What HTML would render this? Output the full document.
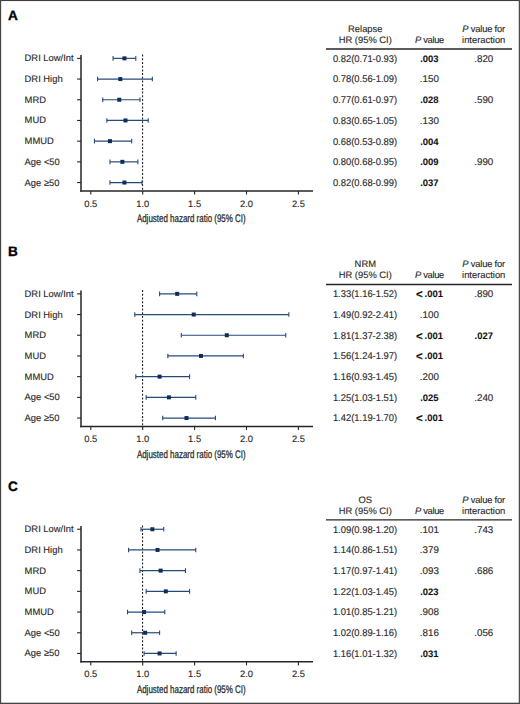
<!DOCTYPE html>
<html><head><meta charset="utf-8"><style>
html,body{margin:0;padding:0;background:#fff;}
body{width:520px;height:704px;overflow:hidden;}
svg{display:block;}
text{text-rendering:geometricPrecision;font-family:"Liberation Sans",sans-serif;font-size:9.4px;fill:#2b2b2b;stroke:#2b2b2b;stroke-width:0.14px;}
text.c{text-anchor:middle;}
text.b{font-weight:bold;fill:#111;}
text.lt{font-size:13.6px;font-weight:bold;fill:#000;stroke:#000;stroke-width:0.35px;}
text.ax{font-size:11px;stroke:#2b2b2b;stroke-width:0.28px;}
text.lt2{font-size:11.5px;}
text.t{font-size:9.8px;}
text.b.t{font-size:9.45px;stroke-width:0.08px;}
</style></head><body>
<svg width="520" height="704" viewBox="0 0 520 704">
<rect x="0" y="0" width="520" height="704" fill="#fff"/>
<text x="8.1" y="19.75" class="lt">A</text>
<text x="365.3" y="31.70" class="c">Relapse</text>
<text x="365.3" y="42.90" class="c">HR (95% CI)</text>
<text x="429.6" y="42.90" class="c" textLength="29.4" lengthAdjust="spacing"><tspan font-style="italic">P</tspan> value</text>
<text x="483.7" y="31.70" class="c" textLength="43.0" lengthAdjust="spacing"><tspan font-style="italic">P</tspan> value for</text>
<text x="483.7" y="42.90" class="c">interaction</text>
<line x1="326" x2="512" y1="49.00" y2="49.00" stroke="#262626" stroke-width="1.3"/>
<line x1="81.0" x2="81.0" y1="55.00" y2="191.65" stroke="#262626" stroke-width="1.5"/>
<line x1="80.25" x2="313" y1="190.90" y2="190.90" stroke="#262626" stroke-width="1.5"/>
<line x1="142.55" x2="142.55" y1="54.60" y2="190.20" stroke="#222" stroke-width="1.1" stroke-dasharray="2 1.7"/>
<line x1="90.80" x2="90.80" y1="190.90" y2="194.50" stroke="#262626" stroke-width="1.1"/>
<text x="90.80" y="206.50" class="c">0.5</text>
<line x1="142.70" x2="142.70" y1="190.90" y2="194.50" stroke="#262626" stroke-width="1.1"/>
<text x="142.70" y="206.50" class="c">1.0</text>
<line x1="194.60" x2="194.60" y1="190.90" y2="194.50" stroke="#262626" stroke-width="1.1"/>
<text x="194.60" y="206.50" class="c">1.5</text>
<line x1="246.50" x2="246.50" y1="190.90" y2="194.50" stroke="#262626" stroke-width="1.1"/>
<text x="246.50" y="206.50" class="c">2.0</text>
<line x1="298.40" x2="298.40" y1="190.90" y2="194.50" stroke="#262626" stroke-width="1.1"/>
<text x="298.40" y="206.50" class="c">2.5</text>
<text x="136.9" y="222.30" class="ax" textLength="108.8" lengthAdjust="spacingAndGlyphs">Adjusted hazard ratio (95% CI)</text>
<line x1="77.10" x2="81.00" y1="58.35" y2="58.35" stroke="#262626" stroke-width="1.1"/>
<text x="24.6" y="61.35">DRI Low/Int</text>
<line x1="113.06" x2="135.81" y1="58.35" y2="58.35" stroke="#264a78" stroke-width="1.2"/>
<line x1="113.06" x2="113.06" y1="56.05" y2="60.65" stroke="#264a78" stroke-width="1.1"/>
<line x1="135.81" x2="135.81" y1="56.05" y2="60.65" stroke="#264a78" stroke-width="1.1"/>
<rect x="122.44" y="56.35" width="4.0" height="4.0" fill="#0f2d5a"/>
<text x="332.9" y="61.75" class="t" textLength="64.3" lengthAdjust="spacingAndGlyphs">0.82(0.71-0.93)</text>
<text x="429.4" y="61.75" class="c b t">.003</text>
<text x="483.8" y="61.75" class="c t">.820</text>
<line x1="77.10" x2="81.00" y1="79.05" y2="79.05" stroke="#262626" stroke-width="1.1"/>
<text x="24.6" y="82.05">DRI High</text>
<line x1="97.55" x2="152.36" y1="79.05" y2="79.05" stroke="#264a78" stroke-width="1.2"/>
<line x1="97.55" x2="97.55" y1="76.75" y2="81.35" stroke="#264a78" stroke-width="1.1"/>
<line x1="152.36" x2="152.36" y1="76.75" y2="81.35" stroke="#264a78" stroke-width="1.1"/>
<rect x="118.30" y="77.05" width="4.0" height="4.0" fill="#0f2d5a"/>
<text x="332.9" y="82.45" class="t" textLength="64.3" lengthAdjust="spacingAndGlyphs">0.78(0.56-1.09)</text>
<text x="429.4" y="82.45" class="c t">.150</text>
<line x1="77.10" x2="81.00" y1="99.75" y2="99.75" stroke="#262626" stroke-width="1.1"/>
<text x="24.6" y="102.75">MRD</text>
<line x1="102.72" x2="139.95" y1="99.75" y2="99.75" stroke="#264a78" stroke-width="1.2"/>
<line x1="102.72" x2="102.72" y1="97.45" y2="102.05" stroke="#264a78" stroke-width="1.1"/>
<line x1="139.95" x2="139.95" y1="97.45" y2="102.05" stroke="#264a78" stroke-width="1.1"/>
<rect x="117.27" y="97.75" width="4.0" height="4.0" fill="#0f2d5a"/>
<text x="332.9" y="103.15" class="t" textLength="64.3" lengthAdjust="spacingAndGlyphs">0.77(0.61-0.97)</text>
<text x="429.4" y="103.15" class="c b t">.028</text>
<text x="483.8" y="103.15" class="c t">.590</text>
<line x1="77.10" x2="81.00" y1="120.45" y2="120.45" stroke="#262626" stroke-width="1.1"/>
<text x="24.6" y="123.45">MUD</text>
<line x1="106.86" x2="148.22" y1="120.45" y2="120.45" stroke="#264a78" stroke-width="1.2"/>
<line x1="106.86" x2="106.86" y1="118.15" y2="122.75" stroke="#264a78" stroke-width="1.1"/>
<line x1="148.22" x2="148.22" y1="118.15" y2="122.75" stroke="#264a78" stroke-width="1.1"/>
<rect x="123.47" y="118.45" width="4.0" height="4.0" fill="#0f2d5a"/>
<text x="332.9" y="123.85" class="t" textLength="64.3" lengthAdjust="spacingAndGlyphs">0.83(0.65-1.05)</text>
<text x="429.4" y="123.85" class="c t">.130</text>
<line x1="77.10" x2="81.00" y1="141.15" y2="141.15" stroke="#262626" stroke-width="1.1"/>
<text x="24.6" y="144.15">MMUD</text>
<line x1="94.45" x2="131.68" y1="141.15" y2="141.15" stroke="#264a78" stroke-width="1.2"/>
<line x1="94.45" x2="94.45" y1="138.85" y2="143.45" stroke="#264a78" stroke-width="1.1"/>
<line x1="131.68" x2="131.68" y1="138.85" y2="143.45" stroke="#264a78" stroke-width="1.1"/>
<rect x="107.96" y="139.15" width="4.0" height="4.0" fill="#0f2d5a"/>
<text x="332.9" y="144.55" class="t" textLength="64.3" lengthAdjust="spacingAndGlyphs">0.68(0.53-0.89)</text>
<text x="429.4" y="144.55" class="c b t">.004</text>
<line x1="77.10" x2="81.00" y1="161.85" y2="161.85" stroke="#262626" stroke-width="1.1"/>
<text x="24.6" y="164.85">Age &lt;50</text>
<line x1="109.96" x2="137.88" y1="161.85" y2="161.85" stroke="#264a78" stroke-width="1.2"/>
<line x1="109.96" x2="109.96" y1="159.55" y2="164.15" stroke="#264a78" stroke-width="1.1"/>
<line x1="137.88" x2="137.88" y1="159.55" y2="164.15" stroke="#264a78" stroke-width="1.1"/>
<rect x="120.37" y="159.85" width="4.0" height="4.0" fill="#0f2d5a"/>
<text x="332.9" y="165.25" class="t" textLength="64.3" lengthAdjust="spacingAndGlyphs">0.80(0.68-0.95)</text>
<text x="429.4" y="165.25" class="c b t">.009</text>
<text x="483.8" y="165.25" class="c t">.990</text>
<line x1="77.10" x2="81.00" y1="182.55" y2="182.55" stroke="#262626" stroke-width="1.1"/>
<text x="24.6" y="185.55">Age ≥50</text>
<line x1="109.96" x2="142.02" y1="182.55" y2="182.55" stroke="#264a78" stroke-width="1.2"/>
<line x1="109.96" x2="109.96" y1="180.25" y2="184.85" stroke="#264a78" stroke-width="1.1"/>
<line x1="142.02" x2="142.02" y1="180.25" y2="184.85" stroke="#264a78" stroke-width="1.1"/>
<rect x="122.44" y="180.55" width="4.0" height="4.0" fill="#0f2d5a"/>
<text x="332.9" y="185.95" class="t" textLength="64.3" lengthAdjust="spacingAndGlyphs">0.82(0.68-0.99)</text>
<text x="429.4" y="185.95" class="c b t">.037</text><text x="8.1" y="255.65" class="lt">B</text>
<text x="365.3" y="267.20" class="c">NRM</text>
<text x="365.3" y="278.40" class="c">HR (95% CI)</text>
<text x="429.6" y="278.40" class="c" textLength="29.4" lengthAdjust="spacing"><tspan font-style="italic">P</tspan> value</text>
<text x="483.7" y="267.20" class="c" textLength="43.0" lengthAdjust="spacing"><tspan font-style="italic">P</tspan> value for</text>
<text x="483.7" y="278.40" class="c">interaction</text>
<line x1="326" x2="512" y1="284.50" y2="284.50" stroke="#262626" stroke-width="1.3"/>
<line x1="81.0" x2="81.0" y1="290.50" y2="427.15" stroke="#262626" stroke-width="1.5"/>
<line x1="80.25" x2="313" y1="426.40" y2="426.40" stroke="#262626" stroke-width="1.5"/>
<line x1="142.55" x2="142.55" y1="290.10" y2="425.70" stroke="#222" stroke-width="1.1" stroke-dasharray="2 1.7"/>
<line x1="90.80" x2="90.80" y1="426.40" y2="430.00" stroke="#262626" stroke-width="1.1"/>
<text x="90.80" y="442.00" class="c">0.5</text>
<line x1="142.70" x2="142.70" y1="426.40" y2="430.00" stroke="#262626" stroke-width="1.1"/>
<text x="142.70" y="442.00" class="c">1.0</text>
<line x1="194.60" x2="194.60" y1="426.40" y2="430.00" stroke="#262626" stroke-width="1.1"/>
<text x="194.60" y="442.00" class="c">1.5</text>
<line x1="246.50" x2="246.50" y1="426.40" y2="430.00" stroke="#262626" stroke-width="1.1"/>
<text x="246.50" y="442.00" class="c">2.0</text>
<line x1="298.40" x2="298.40" y1="426.40" y2="430.00" stroke="#262626" stroke-width="1.1"/>
<text x="298.40" y="442.00" class="c">2.5</text>
<text x="136.9" y="457.80" class="ax" textLength="108.8" lengthAdjust="spacingAndGlyphs">Adjusted hazard ratio (95% CI)</text>
<line x1="77.10" x2="81.00" y1="293.85" y2="293.85" stroke="#262626" stroke-width="1.1"/>
<text x="24.6" y="296.85">DRI Low/Int</text>
<line x1="159.59" x2="196.82" y1="293.85" y2="293.85" stroke="#264a78" stroke-width="1.2"/>
<line x1="159.59" x2="159.59" y1="291.55" y2="296.15" stroke="#264a78" stroke-width="1.1"/>
<line x1="196.82" x2="196.82" y1="291.55" y2="296.15" stroke="#264a78" stroke-width="1.1"/>
<rect x="175.17" y="291.85" width="4.0" height="4.0" fill="#0f2d5a"/>
<text x="332.9" y="297.25" class="t" textLength="64.3" lengthAdjust="spacingAndGlyphs">1.33(1.16-1.52)</text>
<text x="416.0" y="298.15" class="b lt2">&lt;</text>
<text x="424.6" y="297.25" class="b t">.001</text>
<text x="483.8" y="297.25" class="c t">.890</text>
<line x1="77.10" x2="81.00" y1="314.55" y2="314.55" stroke="#262626" stroke-width="1.1"/>
<text x="24.6" y="317.55">DRI High</text>
<line x1="134.78" x2="288.84" y1="314.55" y2="314.55" stroke="#264a78" stroke-width="1.2"/>
<line x1="134.78" x2="134.78" y1="312.25" y2="316.85" stroke="#264a78" stroke-width="1.1"/>
<line x1="288.84" x2="288.84" y1="312.25" y2="316.85" stroke="#264a78" stroke-width="1.1"/>
<rect x="191.72" y="312.55" width="4.0" height="4.0" fill="#0f2d5a"/>
<text x="332.9" y="317.95" class="t" textLength="64.3" lengthAdjust="spacingAndGlyphs">1.49(0.92-2.41)</text>
<text x="429.4" y="317.95" class="c t">.100</text>
<line x1="77.10" x2="81.00" y1="335.25" y2="335.25" stroke="#262626" stroke-width="1.1"/>
<text x="24.6" y="338.25">MRD</text>
<line x1="181.31" x2="285.74" y1="335.25" y2="335.25" stroke="#264a78" stroke-width="1.2"/>
<line x1="181.31" x2="181.31" y1="332.95" y2="337.55" stroke="#264a78" stroke-width="1.1"/>
<line x1="285.74" x2="285.74" y1="332.95" y2="337.55" stroke="#264a78" stroke-width="1.1"/>
<rect x="224.80" y="333.25" width="4.0" height="4.0" fill="#0f2d5a"/>
<text x="332.9" y="338.65" class="t" textLength="64.3" lengthAdjust="spacingAndGlyphs">1.81(1.37-2.38)</text>
<text x="416.0" y="339.55" class="b lt2">&lt;</text>
<text x="424.6" y="338.65" class="b t">.001</text>
<text x="483.8" y="338.65" class="c b t">.027</text>
<line x1="77.10" x2="81.00" y1="355.95" y2="355.95" stroke="#262626" stroke-width="1.1"/>
<text x="24.6" y="358.95">MUD</text>
<line x1="167.87" x2="243.35" y1="355.95" y2="355.95" stroke="#264a78" stroke-width="1.2"/>
<line x1="167.87" x2="167.87" y1="353.65" y2="358.25" stroke="#264a78" stroke-width="1.1"/>
<line x1="243.35" x2="243.35" y1="353.65" y2="358.25" stroke="#264a78" stroke-width="1.1"/>
<rect x="198.95" y="353.95" width="4.0" height="4.0" fill="#0f2d5a"/>
<text x="332.9" y="359.35" class="t" textLength="64.3" lengthAdjust="spacingAndGlyphs">1.56(1.24-1.97)</text>
<text x="416.0" y="360.25" class="b lt2">&lt;</text>
<text x="424.6" y="359.35" class="b t">.001</text>
<line x1="77.10" x2="81.00" y1="376.65" y2="376.65" stroke="#262626" stroke-width="1.1"/>
<text x="24.6" y="379.65">MMUD</text>
<line x1="135.81" x2="189.58" y1="376.65" y2="376.65" stroke="#264a78" stroke-width="1.2"/>
<line x1="135.81" x2="135.81" y1="374.35" y2="378.95" stroke="#264a78" stroke-width="1.1"/>
<line x1="189.58" x2="189.58" y1="374.35" y2="378.95" stroke="#264a78" stroke-width="1.1"/>
<rect x="157.59" y="374.65" width="4.0" height="4.0" fill="#0f2d5a"/>
<text x="332.9" y="380.05" class="t" textLength="64.3" lengthAdjust="spacingAndGlyphs">1.16(0.93-1.45)</text>
<text x="429.4" y="380.05" class="c t">.200</text>
<line x1="77.10" x2="81.00" y1="397.35" y2="397.35" stroke="#262626" stroke-width="1.1"/>
<text x="24.6" y="400.35">Age &lt;50</text>
<line x1="146.15" x2="195.78" y1="397.35" y2="397.35" stroke="#264a78" stroke-width="1.2"/>
<line x1="146.15" x2="146.15" y1="395.05" y2="399.65" stroke="#264a78" stroke-width="1.1"/>
<line x1="195.78" x2="195.78" y1="395.05" y2="399.65" stroke="#264a78" stroke-width="1.1"/>
<rect x="166.90" y="395.35" width="4.0" height="4.0" fill="#0f2d5a"/>
<text x="332.9" y="400.75" class="t" textLength="64.3" lengthAdjust="spacingAndGlyphs">1.25(1.03-1.51)</text>
<text x="429.4" y="400.75" class="c b t">.025</text>
<text x="483.8" y="400.75" class="c t">.240</text>
<line x1="77.10" x2="81.00" y1="418.05" y2="418.05" stroke="#262626" stroke-width="1.1"/>
<text x="24.6" y="421.05">Age ≥50</text>
<line x1="162.70" x2="215.43" y1="418.05" y2="418.05" stroke="#264a78" stroke-width="1.2"/>
<line x1="162.70" x2="162.70" y1="415.75" y2="420.35" stroke="#264a78" stroke-width="1.1"/>
<line x1="215.43" x2="215.43" y1="415.75" y2="420.35" stroke="#264a78" stroke-width="1.1"/>
<rect x="184.48" y="416.05" width="4.0" height="4.0" fill="#0f2d5a"/>
<text x="332.9" y="421.45" class="t" textLength="64.3" lengthAdjust="spacingAndGlyphs">1.42(1.19-1.70)</text>
<text x="416.0" y="422.35" class="b lt2">&lt;</text>
<text x="424.6" y="421.45" class="b t">.001</text><text x="8.1" y="491.20" class="lt">C</text>
<text x="365.3" y="502.60" class="c">OS</text>
<text x="365.3" y="513.80" class="c">HR (95% CI)</text>
<text x="429.6" y="513.80" class="c" textLength="29.4" lengthAdjust="spacing"><tspan font-style="italic">P</tspan> value</text>
<text x="483.7" y="502.60" class="c" textLength="43.0" lengthAdjust="spacing"><tspan font-style="italic">P</tspan> value for</text>
<text x="483.7" y="513.80" class="c">interaction</text>
<line x1="326" x2="512" y1="519.90" y2="519.90" stroke="#262626" stroke-width="1.3"/>
<line x1="81.0" x2="81.0" y1="525.90" y2="662.55" stroke="#262626" stroke-width="1.5"/>
<line x1="80.25" x2="313" y1="661.80" y2="661.80" stroke="#262626" stroke-width="1.5"/>
<line x1="142.55" x2="142.55" y1="525.50" y2="661.10" stroke="#222" stroke-width="1.1" stroke-dasharray="2 1.7"/>
<line x1="90.80" x2="90.80" y1="661.80" y2="665.40" stroke="#262626" stroke-width="1.1"/>
<text x="90.80" y="677.40" class="c">0.5</text>
<line x1="142.70" x2="142.70" y1="661.80" y2="665.40" stroke="#262626" stroke-width="1.1"/>
<text x="142.70" y="677.40" class="c">1.0</text>
<line x1="194.60" x2="194.60" y1="661.80" y2="665.40" stroke="#262626" stroke-width="1.1"/>
<text x="194.60" y="677.40" class="c">1.5</text>
<line x1="246.50" x2="246.50" y1="661.80" y2="665.40" stroke="#262626" stroke-width="1.1"/>
<text x="246.50" y="677.40" class="c">2.0</text>
<line x1="298.40" x2="298.40" y1="661.80" y2="665.40" stroke="#262626" stroke-width="1.1"/>
<text x="298.40" y="677.40" class="c">2.5</text>
<text x="136.9" y="693.20" class="ax" textLength="108.8" lengthAdjust="spacingAndGlyphs">Adjusted hazard ratio (95% CI)</text>
<line x1="77.10" x2="81.00" y1="529.25" y2="529.25" stroke="#262626" stroke-width="1.1"/>
<text x="24.6" y="532.25">DRI Low/Int</text>
<line x1="140.98" x2="163.73" y1="529.25" y2="529.25" stroke="#264a78" stroke-width="1.2"/>
<line x1="140.98" x2="140.98" y1="526.95" y2="531.55" stroke="#264a78" stroke-width="1.1"/>
<line x1="163.73" x2="163.73" y1="526.95" y2="531.55" stroke="#264a78" stroke-width="1.1"/>
<rect x="150.36" y="527.25" width="4.0" height="4.0" fill="#0f2d5a"/>
<text x="332.9" y="532.65" class="t" textLength="64.3" lengthAdjust="spacingAndGlyphs">1.09(0.98-1.20)</text>
<text x="429.4" y="532.65" class="c t">.101</text>
<text x="483.8" y="532.65" class="c t">.743</text>
<line x1="77.10" x2="81.00" y1="549.95" y2="549.95" stroke="#262626" stroke-width="1.1"/>
<text x="24.6" y="552.95">DRI High</text>
<line x1="128.57" x2="195.78" y1="549.95" y2="549.95" stroke="#264a78" stroke-width="1.2"/>
<line x1="128.57" x2="128.57" y1="547.65" y2="552.25" stroke="#264a78" stroke-width="1.1"/>
<line x1="195.78" x2="195.78" y1="547.65" y2="552.25" stroke="#264a78" stroke-width="1.1"/>
<rect x="155.53" y="547.95" width="4.0" height="4.0" fill="#0f2d5a"/>
<text x="332.9" y="553.35" class="t" textLength="64.3" lengthAdjust="spacingAndGlyphs">1.14(0.86-1.51)</text>
<text x="429.4" y="553.35" class="c t">.379</text>
<line x1="77.10" x2="81.00" y1="570.65" y2="570.65" stroke="#262626" stroke-width="1.1"/>
<text x="24.6" y="573.65">MRD</text>
<line x1="139.95" x2="185.44" y1="570.65" y2="570.65" stroke="#264a78" stroke-width="1.2"/>
<line x1="139.95" x2="139.95" y1="568.35" y2="572.95" stroke="#264a78" stroke-width="1.1"/>
<line x1="185.44" x2="185.44" y1="568.35" y2="572.95" stroke="#264a78" stroke-width="1.1"/>
<rect x="158.63" y="568.65" width="4.0" height="4.0" fill="#0f2d5a"/>
<text x="332.9" y="574.05" class="t" textLength="64.3" lengthAdjust="spacingAndGlyphs">1.17(0.97-1.41)</text>
<text x="429.4" y="574.05" class="c t">.093</text>
<text x="483.8" y="574.05" class="c t">.686</text>
<line x1="77.10" x2="81.00" y1="591.35" y2="591.35" stroke="#262626" stroke-width="1.1"/>
<text x="24.6" y="594.35">MUD</text>
<line x1="146.15" x2="189.58" y1="591.35" y2="591.35" stroke="#264a78" stroke-width="1.2"/>
<line x1="146.15" x2="146.15" y1="589.05" y2="593.65" stroke="#264a78" stroke-width="1.1"/>
<line x1="189.58" x2="189.58" y1="589.05" y2="593.65" stroke="#264a78" stroke-width="1.1"/>
<rect x="163.80" y="589.35" width="4.0" height="4.0" fill="#0f2d5a"/>
<text x="332.9" y="594.75" class="t" textLength="64.3" lengthAdjust="spacingAndGlyphs">1.22(1.03-1.45)</text>
<text x="429.4" y="594.75" class="c b t">.023</text>
<line x1="77.10" x2="81.00" y1="612.05" y2="612.05" stroke="#262626" stroke-width="1.1"/>
<text x="24.6" y="615.05">MMUD</text>
<line x1="127.54" x2="164.76" y1="612.05" y2="612.05" stroke="#264a78" stroke-width="1.2"/>
<line x1="127.54" x2="127.54" y1="609.75" y2="614.35" stroke="#264a78" stroke-width="1.1"/>
<line x1="164.76" x2="164.76" y1="609.75" y2="614.35" stroke="#264a78" stroke-width="1.1"/>
<rect x="142.08" y="610.05" width="4.0" height="4.0" fill="#0f2d5a"/>
<text x="332.9" y="615.45" class="t" textLength="64.3" lengthAdjust="spacingAndGlyphs">1.01(0.85-1.21)</text>
<text x="429.4" y="615.45" class="c t">.908</text>
<line x1="77.10" x2="81.00" y1="632.75" y2="632.75" stroke="#262626" stroke-width="1.1"/>
<text x="24.6" y="635.75">Age &lt;50</text>
<line x1="131.68" x2="159.59" y1="632.75" y2="632.75" stroke="#264a78" stroke-width="1.2"/>
<line x1="131.68" x2="131.68" y1="630.45" y2="635.05" stroke="#264a78" stroke-width="1.1"/>
<line x1="159.59" x2="159.59" y1="630.45" y2="635.05" stroke="#264a78" stroke-width="1.1"/>
<rect x="143.12" y="630.75" width="4.0" height="4.0" fill="#0f2d5a"/>
<text x="332.9" y="636.15" class="t" textLength="64.3" lengthAdjust="spacingAndGlyphs">1.02(0.89-1.16)</text>
<text x="429.4" y="636.15" class="c t">.816</text>
<text x="483.8" y="636.15" class="c t">.056</text>
<line x1="77.10" x2="81.00" y1="653.45" y2="653.45" stroke="#262626" stroke-width="1.1"/>
<text x="24.6" y="656.45">Age ≥50</text>
<line x1="144.08" x2="176.14" y1="653.45" y2="653.45" stroke="#264a78" stroke-width="1.2"/>
<line x1="144.08" x2="144.08" y1="651.15" y2="655.75" stroke="#264a78" stroke-width="1.1"/>
<line x1="176.14" x2="176.14" y1="651.15" y2="655.75" stroke="#264a78" stroke-width="1.1"/>
<rect x="157.59" y="651.45" width="4.0" height="4.0" fill="#0f2d5a"/>
<text x="332.9" y="656.85" class="t" textLength="64.3" lengthAdjust="spacingAndGlyphs">1.16(1.01-1.32)</text>
<text x="429.4" y="656.85" class="c b t">.031</text>
<rect x="0" y="0" width="520" height="1.05" fill="#3e3e3e"/>
<rect x="0" y="0" width="1.15" height="704" fill="#454545"/>
<rect x="518.75" y="0" width="1.25" height="704" fill="#4c4c4c"/>
<rect x="0" y="702.7" width="520" height="1.3" fill="#444"/>
</svg>
</body></html>
